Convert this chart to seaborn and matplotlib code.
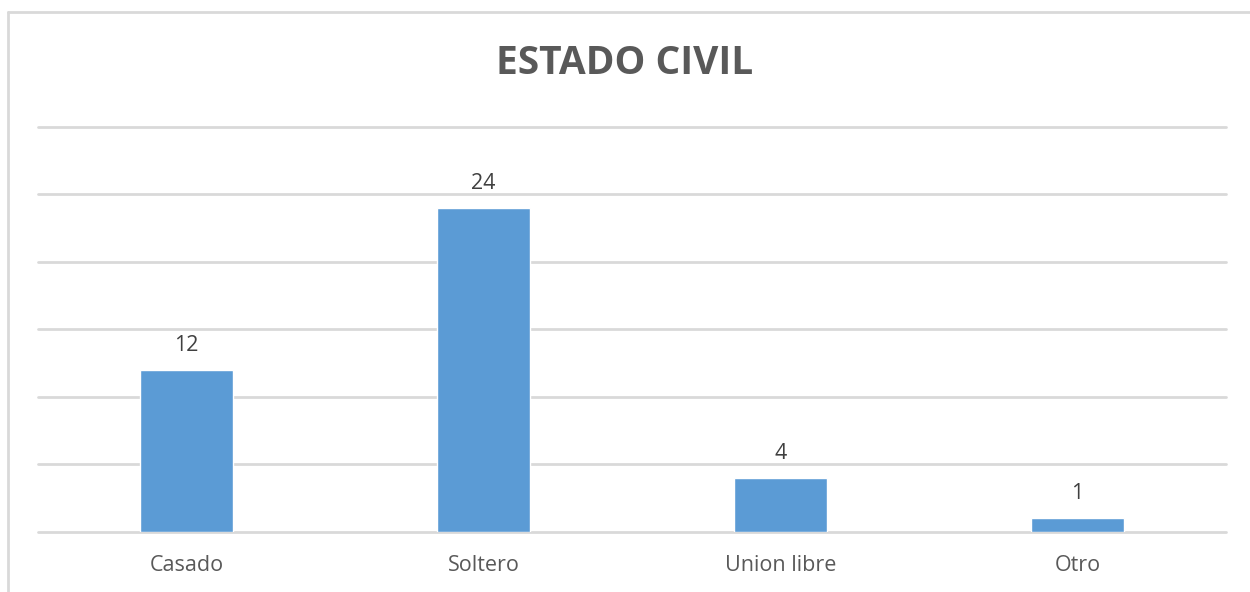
import matplotlib
matplotlib.use("Agg")
import matplotlib.pyplot as plt
from matplotlib.lines import Line2D
import seaborn as sns
import pandas as pd

categories = ["Casado", "Soltero", "Union libre", "Otro"]
values = [12, 24, 4, 1]
title = "ESTADO CIVIL"

df = pd.DataFrame({"cat": categories, "val": values})

sns.set_theme(style="white")
plt.rcParams["font.family"] = ["Open Sans", "DejaVu Sans"]

fig = plt.figure(figsize=(12.5, 5.92), dpi=100)
ax = fig.add_axes([38 / 1250, 1 - 531.5 / 592, (1226 - 38) / 1250, (531.5 - 127) / 592])

sns.barplot(data=df, x="cat", y="val", color="#5B9BD5", width=0.31,
            saturation=1, ax=ax, zorder=3)

ax.set_ylim(0, 30)
ax.set_xlim(-0.5, 3.5)
ax.set_yticks(range(0, 31, 5))
ax.yaxis.grid(True, color="#D9D9D9", linewidth=2, zorder=0)
for gl in ax.get_ygridlines():
    gl.set_clip_on(False)
ax.tick_params(axis="y", left=False, labelleft=False)
ax.tick_params(axis="x", bottom=False, labelsize=15.5, colors="#595959", pad=11)
ax.set_xlabel("")
ax.set_ylabel("")
for s in ax.spines.values():
    s.set_visible(False)

for c in ax.containers:
    ax.bar_label(c, padding=10, fontsize=15.5, color="#404040")

fig.text(0.5, 1 - 63 / 592, title, ha="center", va="center",
         fontsize=28, fontweight="bold", color="#595959")

# chart frame lines (top and left)
fig.add_artist(Line2D([8 / 1250, 1.0], [1 - 12 / 592, 1 - 12 / 592],
                      transform=fig.transFigure, color="#D9D9D9", linewidth=2))
fig.add_artist(Line2D([8 / 1250, 8 / 1250], [0, 1 - 12 / 592],
                      transform=fig.transFigure, color="#D9D9D9", linewidth=2))

fig.savefig("out.png", dpi=100, facecolor="white")
